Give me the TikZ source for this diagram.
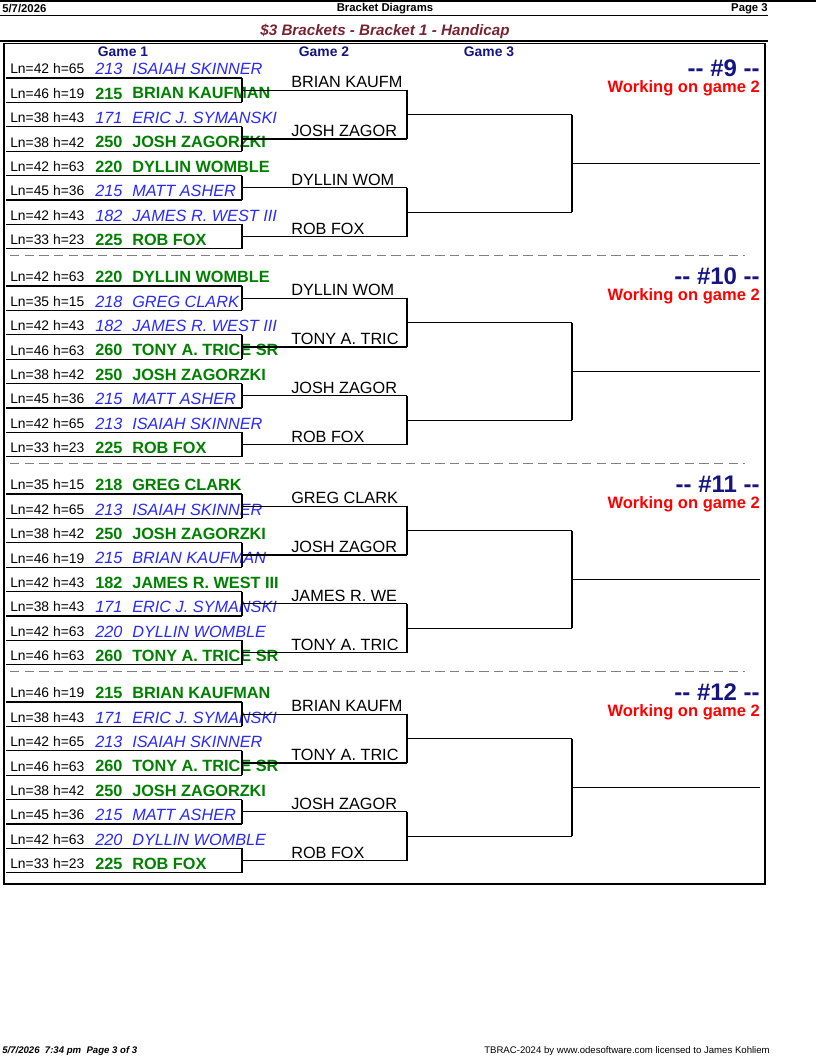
\documentclass[tikz,border=0pt]{standalone}
\usepackage{fontspec}
\setmainfont{Liberation Sans}
\usepackage{tikz}
\usetikzlibrary{positioning,calc}

\definecolor{navy}{RGB}{20,20,130}
\definecolor{maroon}{RGB}{120,35,50}
\definecolor{losecol}{RGB}{40,40,255}
\definecolor{wincol}{RGB}{0,128,0}

\begin{document}
\begin{tikzpicture}[
  x=0.75pt, y=-0.75pt,
  txt/.style={inner sep=0pt, anchor=west, font=\fontsize{10.4}{12}\selectfont},
  win/.style={txt, text=wincol, font=\fontsize{12.2}{14}\selectfont\bfseries},
  lose/.style={txt, text=losecol, font=\fontsize{12.2}{14}\selectfont\itshape},
  hdr/.style={inner sep=0pt, font=\fontsize{8.5}{10}\selectfont\bfseries},
  game/.style={inner sep=0pt, text=navy, font=\fontsize{10.4}{12}\selectfont\bfseries},
  line/.style={line width=0.8pt}
]
\useasboundingbox (0,0) rectangle (816,1058);

% Page header
\draw[line] (0,1) -- (816,1);
\node[hdr, anchor=west] (date) at (2,9) {5/7/2026};
\node[hdr] (head) at (385,9) {Bracket Diagrams};
\node[hdr, anchor=east] (page) at (768,9) {Page 3};
\draw[line] (0,15.5) -- (768,15.5);
\node[inner sep=0pt, text=maroon, font=\fontsize{11.4}{13}\selectfont\bfseries\itshape] (title) at (385,31) {\$3 Brackets - Bracket 1 - Handicap};
\draw[line] (0,41) -- (768,41);
\draw[line] (4,43.5) rectangle (765,884);

\node[game] (g1) at (123,52) {Game 1};
\node[game] (g2) at (324,52) {Game 2};
\node[game] (g3) at (489,52) {Game 3};

% Brackets
\foreach \k/\num/\entries/\rtwo in {
  0/9/{42/65/213/ISAIAH SKINNER/0, 46/19/215/BRIAN KAUFMAN/1, 38/43/171/ERIC J. SYMANSKI/0, 38/42/250/JOSH ZAGORZKI/1, 42/63/220/DYLLIN WOMBLE/1, 45/36/215/MATT ASHER/0, 42/43/182/JAMES R. WEST III/0, 33/23/225/ROB FOX/1}/{BRIAN KAUFM, JOSH ZAGOR, DYLLIN WOM, ROB FOX},
  1/10/{42/63/220/DYLLIN WOMBLE/1, 35/15/218/GREG CLARK/0, 42/43/182/JAMES R. WEST III/0, 46/63/260/TONY A. TRICE SR/1, 38/42/250/JOSH ZAGORZKI/1, 45/36/215/MATT ASHER/0, 42/65/213/ISAIAH SKINNER/0, 33/23/225/ROB FOX/1}/{DYLLIN WOM, TONY A. TRIC, JOSH ZAGOR, ROB FOX},
  2/11/{35/15/218/GREG CLARK/1, 42/65/213/ISAIAH SKINNER/0, 38/42/250/JOSH ZAGORZKI/1, 46/19/215/BRIAN KAUFMAN/0, 42/43/182/JAMES R. WEST III/1, 38/43/171/ERIC J. SYMANSKI/0, 42/63/220/DYLLIN WOMBLE/0, 46/63/260/TONY A. TRICE SR/1}/{GREG CLARK, JOSH ZAGOR, JAMES R. WE, TONY A. TRIC},
  3/12/{46/19/215/BRIAN KAUFMAN/1, 38/43/171/ERIC J. SYMANSKI/0, 42/65/213/ISAIAH SKINNER/0, 46/63/260/TONY A. TRICE SR/1, 38/42/250/JOSH ZAGORZKI/1, 45/36/215/MATT ASHER/0, 42/63/220/DYLLIN WOMBLE/0, 33/23/225/ROB FOX/1}/{BRIAN KAUFM, TONY A. TRIC, JOSH ZAGOR, ROB FOX}}{
  \pgfmathsetmacro\off{208*\k}
  % entries and their underlines
  \foreach \ln/\hc/\sc/\nm/\w [count=\i from 0] in \entries {
    \pgfmathsetmacro\ty{69+24.4*\i+\off}
    \pgfmathsetmacro\uy{78+24.4*\i+\off}
    \node[txt] (ln\k-\i) at (10,\ty) {Ln=\ln{} h=\hc};
    \ifnum\w=1
      \node[win] (sc\k-\i) at (95,\ty) {\sc};
      \node[win] (nm\k-\i) at (132,\ty) {\nm};
    \else
      \node[lose] (sc\k-\i) at (95,\ty) {\sc};
      \node[lose] (nm\k-\i) at (132,\ty) {\nm};
    \fi
    \coordinate (ul\k-\i) at (6,\uy);
    \coordinate (ur\k-\i) at (242,\uy);
    \draw[line] (ul\k-\i) -- (ur\k-\i);
  }
  % game 2
  \foreach \nm [count=\j from 0] in \rtwo {
    \pgfmathtruncatemacro\a{2*\j}
    \pgfmathtruncatemacro\b{2*\j+1}
    \draw[line] (ur\k-\a) -- (ur\k-\b);
    \coordinate (m\k-\j) at ($(ur\k-\a)!0.5!(ur\k-\b)$);
    \coordinate (p\k-\j) at ($(m\k-\j)+(165,0)$);
    \draw[line] (m\k-\j) -- (p\k-\j);
    \node[txt, text=black, font=\fontsize{12.2}{14}\selectfont, anchor=south west] (w\k-\j) at ($(m\k-\j)+(49,-2)$) {\nm};
  }
  % game 3 and final
  \foreach \j/\a/\b in {0/0/1, 1/2/3} {
    \draw[line] (p\k-\a) -- (p\k-\b);
    \coordinate (n\k-\j) at ($(p\k-\a)!0.5!(p\k-\b)$);
    \coordinate (q\k-\j) at ($(n\k-\j)+(165,0)$);
    \draw[line] (n\k-\j) -- (q\k-\j);
  }
  \draw[line] (q\k-0) -- (q\k-1);
  \coordinate (f\k) at ($(q\k-0)!0.5!(q\k-1)$);
  \coordinate (fe\k) at ($(f\k)+(188,0)$);
  \draw[line] (f\k) -- (fe\k);
  % labels
  \node[inner sep=0pt, anchor=east, text=navy, font=\fontsize{18}{20}\selectfont\bfseries] (num\k) at (760,68+\off) {{-}{-} \#\num{} {-}{-}};
  \node[inner sep=0pt, anchor=east, text=red, font=\fontsize{12.4}{14}\selectfont\bfseries] (wk\k) at (760,88+\off) {Working on game 2};
  \ifnum\k<3
    \draw[gray, dashed, dash pattern=on 7pt off 4pt] (10,255+\off) -- (745,255+\off);
  \fi
}

% Footer
\node[inner sep=0pt, anchor=west, font=\fontsize{7.2}{8}\selectfont\bfseries\itshape] (foot) at (2,1051) {5/7/2026\ \ 7:34 pm\ \ Page 3 of 3};
\node[inner sep=0pt, anchor=east, font=\fontsize{7.2}{8}\selectfont] (lic) at (770,1051) {TBRAC-2024 by www.odesoftware.com licensed to James Kohliem};
\end{tikzpicture}
\end{document}
